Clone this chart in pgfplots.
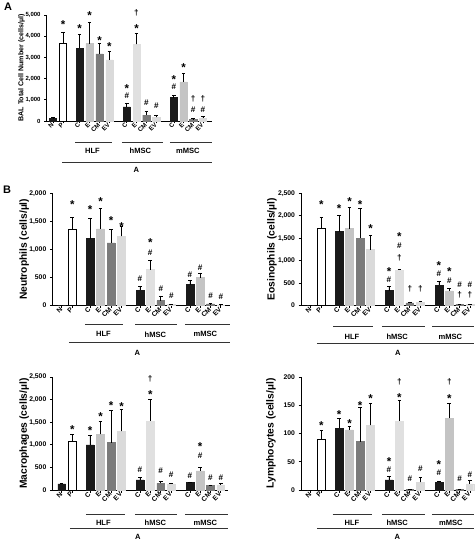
\documentclass[border=0pt]{standalone}
\usepackage{fontspec}
\setmainfont{Liberation Sans}
\usepackage{pgfplots}
\pgfplotsset{compat=1.18}
\definecolor{cblk}{HTML}{1A1A1A}
\definecolor{cE}{HTML}{C4C4C4}
\definecolor{chE}{HTML}{E0E0E0}
\definecolor{cCM}{HTML}{7B7B7B}
\definecolor{cEV}{HTML}{DADADA}
\definecolor{cgl}{HTML}{333333}
\pgfplotsset{
 panel/.style={
  scale only axis, anchor=south west, clip=false,
  axis x line*=bottom, axis y line*=left,
  axis line style={line width=0.8bp, black},
  tick align=outside, major tick length=2.5bp,
  tick style={line width=0.7bp, black},
  ymin=0,
  xtick={0,1.03,2.75,3.77,4.79,5.81,7.6,8.6,9.62,10.64,12.45,13.45,14.45,15.45},
  xticklabels={N,P,C,E,CM,EV,C,E,CM,EV,C,E,CM,EV},
  xticklabel style={rotate=45, anchor=east, inner sep=0.6bp, font=\bfseries\fontsize{6.8}{6.8}\selectfont},
  scaled y ticks=false,
  yticklabel style={/pgf/number format/fixed, /pgf/number format/1000 sep={,}, /pgf/number format/assume math mode=true},
  ybar, bar width=0.75, bar shift=0pt,
  error bars/y dir=plus, error bars/y explicit,
  error bars/error bar style={line width=0.8bp, black},
  error bars/error mark options={rotate=90, mark size=1.8bp, line width=0.8bp, black},
 },
 sblk/.style={fill=cblk, draw=cblk},
 sP/.style={fill=white, draw=black, line width=0.8bp},
 sE/.style={fill=cE, draw=cE},
 shE/.style={fill=chE, draw=chE},
 sCM/.style={fill=cCM, draw=cCM},
 sEV/.style={fill=cEV, draw=cEV},
}
\tikzset{
 st/.style={font=\bfseries\fontsize{11.5}{11.5}\selectfont, anchor=base, yshift=-6.6bp, inner sep=0pt},
 hs/.style={font=\bfseries\fontsize{8.2}{8.2}\selectfont, anchor=center, inner sep=0pt},
 grp/.style={line width=0.8bp, cgl},
 glab/.style={font=\bfseries\fontsize{7.6}{7.6}\selectfont, anchor=center, inner sep=0pt},
 ylab/.style={font=\bfseries\fontsize{10.3}{10.3}\selectfont, rotate=90, anchor=center, inner sep=0pt},
}
\begin{document}
\begin{tikzpicture}
\useasboundingbox (0,0) rectangle (475bp,541bp);
\node[font=\bfseries\fontsize{11}{11}\selectfont, anchor=north west, inner sep=0pt] at (4bp,538bp) {A};
\node[font=\bfseries\fontsize{11}{11}\selectfont, anchor=north west, inner sep=0pt] at (3bp,355bp) {B};

% ---------------- Panel A ----------------
\begin{axis}[panel, at={(46.5bp,420bp)}, width=165.5bp, height=106bp,
  xmin=-0.67, xmax=16.38, ymax=5000, ytick={0,1000,2000,3000,4000,5000},
  yticklabel style={font=\bfseries\fontsize{6}{6}\selectfont},
  xticklabel style={font=\bfseries\fontsize{6.3}{6.3}\selectfont}]
\addplot[sblk] coordinates {(0,140) +- (0,15) (2.75,3430) +- (0,670) (7.6,667) +- (0,155) (12.45,1100) +- (0,94)};
\addplot[sP] coordinates {(1.03,3662) +- (0,500)};
\addplot[sE] coordinates {(3.77,3647) +- (0,1026) (13.45,1843) +- (0,420)};
\addplot[shE] coordinates {(8.6,3616) +- (0,513)};
\addplot[sCM] coordinates {(4.79,3165) +- (0,497) (9.62,279) +- (0,186) (14.45,93) +- (0,15)};
\addplot[sEV] coordinates {(5.81,2885) +- (0,389) (10.64,170) +- (0,80) (15.45,140) +- (0,60)};
\node[st] at (axis cs:1.03,4653) {*};
\node[st] at (axis cs:2.75,4464) {*};
\node[st] at (axis cs:3.77,5095) {*};
\node[st] at (axis cs:4.79,3912) {*};
\node[st] at (axis cs:5.81,3628) {*};
\node[st] at (axis cs:7.6,1650) {*};
\node[hs] at (axis cs:7.6,1180) {\#};
\node[hs] at (axis cs:8.6,5090) {†};
\node[st] at (axis cs:8.6,4500) {*};
\node[hs] at (axis cs:9.62,880) {\#};
\node[hs] at (axis cs:10.64,720) {\#};
\node[st] at (axis cs:12.45,2075) {*};
\node[hs] at (axis cs:12.45,1605) {\#};
\node[st] at (axis cs:13.45,2650) {*};
\node[hs] at (axis cs:14.45,1050) {†};
\node[hs] at (axis cs:14.45,540) {\#};
\node[hs] at (axis cs:15.45,1050) {†};
\node[hs] at (axis cs:15.45,540) {\#};
\node[font=\bfseries\fontsize{7.1}{7.1}\selectfont, rotate=90, anchor=center, inner sep=0pt] at ([xshift=-25bp]rel axis cs:0,0.5) {BAL Total Cell Number (cells/µl)};
\draw[grp] ([yshift=-21bp]axis cs:2.27,0) -- ([yshift=-21bp]axis cs:6.08,0);
\draw[grp] ([yshift=-21bp]axis cs:7.1,0) -- ([yshift=-21bp]axis cs:11.33,0);
\draw[grp] ([yshift=-21bp]axis cs:12.05,0) -- ([yshift=-21bp]rel axis cs:1,0);
\node[glab] at ([yshift=-30bp]axis cs:4.07,0) {HLF};
\node[glab] at ([yshift=-30bp]axis cs:9.0,0) {hMSC};
\node[glab] at ([yshift=-30bp]axis cs:13.9,0) {mMSC};
\draw[grp] ([yshift=-41bp]axis cs:0.93,0) -- ([yshift=-41bp]rel axis cs:1,0);
\node[glab] at ([yshift=-49bp]axis cs:8.6,0) {A};
\end{axis}

% ---------------- Neutrophils ----------------
\begin{axis}[panel, at={(52.3bp,235.7bp)}, width=177.7bp, height=112bp,
  xmin=-0.91, xmax=16.34, ymax=2000, ytick={0,500,1000,1500,2000},
  yticklabel style={font=\bfseries\fontsize{6.8}{7}\selectfont}]
\addplot[sblk] coordinates {(0,5) +- (0,0) (2.75,1190) +- (0,369) (7.6,268) +- (0,71) (12.45,369) +- (0,77)};
\addplot[sP] coordinates {(1.03,1357) +- (0,208)};
\addplot[sE] coordinates {(3.77,1363) +- (0,374) (13.45,494) +- (0,83)};
\addplot[shE] coordinates {(8.6,637) +- (0,166)};
\addplot[sCM] coordinates {(4.79,1113) +- (0,244) (9.62,83) +- (0,84) (14.45,24) +- (0,8)};
\addplot[sEV] coordinates {(5.81,1232) +- (0,178) (10.64,12) +- (0,5) (15.45,6) +- (0,4)};
\node[st] at (axis cs:1.03,1845) {*};
\node[st] at (axis cs:2.75,1755) {*};
\node[st] at (axis cs:3.77,1904) {*};
\node[st] at (axis cs:4.79,1559) {*};
\node[st] at (axis cs:5.81,1458) {*};
\node[hs] at (axis cs:7.6,476) {\#};
\node[st] at (axis cs:8.6,1160) {*};
\node[hs] at (axis cs:8.6,940) {\#};
\node[hs] at (axis cs:9.62,298) {\#};
\node[hs] at (axis cs:10.64,167) {\#};
\node[hs] at (axis cs:12.45,547) {\#};
\node[hs] at (axis cs:13.45,672) {\#};
\node[hs] at (axis cs:14.45,167) {\#};
\node[hs] at (axis cs:15.45,149) {\#};
\node[ylab] at ([xshift=-28bp]rel axis cs:0,0.5) {Neutrophils (cells/µl)};
\draw[grp] ([yshift=-19bp]axis cs:2.26,0) -- ([yshift=-19bp]axis cs:5.96,0);
\draw[grp] ([yshift=-19bp]axis cs:7.12,0) -- ([yshift=-19bp]axis cs:11.19,0);
\draw[grp] ([yshift=-19bp]axis cs:11.97,0) -- ([yshift=-19bp]rel axis cs:1,0);
\node[glab] at ([yshift=-29bp]axis cs:4.05,0) {HLF};
\node[glab] at ([yshift=-29bp]axis cs:9.1,0) {hMSC};
\node[glab] at ([yshift=-29bp]axis cs:13.95,0) {mMSC};
\draw[grp] ([yshift=-37.5bp]axis cs:0.71,0) -- ([yshift=-37.5bp]rel axis cs:1,0);
\node[glab] at ([yshift=-47.5bp]axis cs:7.35,0) {A};
\end{axis}

% ---------------- Eosinophils ----------------
\begin{axis}[panel, at={(301bp,235.5bp)}, width=173bp, height=112.2bp,
  xmin=-0.94, xmax=15.85, ymax=2500, ytick={0,500,1000,1500,2000,2500},
  yticklabel style={font=\bfseries\fontsize{6.8}{7}\selectfont}]
\addplot[sblk] coordinates {(0,0) +- (0,0) (2.75,1647) +- (0,356) (7.6,334) +- (0,96) (12.45,453) +- (0,81)};
\addplot[sP] coordinates {(1.03,1721) +- (0,245)};
\addplot[sE] coordinates {(3.77,1714) +- (0,467) (13.45,326) +- (0,60)};
\addplot[shE] coordinates {(8.6,794) +- (0,16)};
\addplot[sCM] coordinates {(4.79,1499) +- (0,667) (9.62,59) +- (0,21) (14.45,22) +- (0,5)};
\addplot[sEV] coordinates {(5.81,1246) +- (0,305) (10.64,74) +- (0,16) (15.45,22) +- (0,4)};
\node[st] at (axis cs:1.03,2315) {*};
\node[st] at (axis cs:2.75,2226) {*};
\node[st] at (axis cs:3.77,2367) {*};
\node[st] at (axis cs:4.79,2300) {*};
\node[st] at (axis cs:5.81,1781) {*};
\node[st] at (axis cs:7.6,820) {*};
\node[hs] at (axis cs:7.6,585) {\#};
\node[st] at (axis cs:8.6,1600) {*};
\node[hs] at (axis cs:8.6,1336) {\#};
\node[hs] at (axis cs:8.6,1060) {†};
\node[hs] at (axis cs:9.62,364) {†};
\node[hs] at (axis cs:10.64,364) {†};
\node[st] at (axis cs:12.45,955) {*};
\node[hs] at (axis cs:12.45,712) {\#};
\node[st] at (axis cs:13.45,805) {*};
\node[hs] at (axis cs:13.45,563) {\#};
\node[hs] at (axis cs:14.45,455) {\#};
\node[hs] at (axis cs:14.45,227) {†};
\node[hs] at (axis cs:15.45,455) {\#};
\node[hs] at (axis cs:15.45,227) {†};
\node[ylab] at ([xshift=-29bp]rel axis cs:0,0.5) {Eosinophils (cells/µl)};
\draw[grp] ([yshift=-21bp]axis cs:2.17,0) -- ([yshift=-21bp]axis cs:6.05,0);
\draw[grp] ([yshift=-21bp]axis cs:6.92,0) -- ([yshift=-21bp]axis cs:11.1,0);
\draw[grp] ([yshift=-21bp]axis cs:11.78,0) -- ([yshift=-21bp]rel axis cs:1,0);
\node[glab] at ([yshift=-31bp]axis cs:4.0,0) {HLF};
\node[glab] at ([yshift=-31bp]axis cs:8.4,0) {hMSC};
\node[glab] at ([yshift=-31bp]axis cs:13.55,0) {mMSC};
\draw[grp] ([yshift=-37.5bp]axis cs:0.61,0) -- ([yshift=-37.5bp]rel axis cs:1,0);
\node[glab] at ([yshift=-47.5bp]axis cs:8.45,0) {A};
\end{axis}

% ---------------- Macrophages ----------------
\begin{axis}[panel, at={(52.3bp,51bp)}, width=176bp, height=113bp,
  xmin=-0.91, xmax=16.18, ymax=2500, ytick={0,500,1000,1500,2000,2500},
  yticklabel style={font=\bfseries\fontsize{6.8}{7}\selectfont}]
\addplot[sblk] coordinates {(0,133) +- (0,15) (2.75,999) +- (0,200) (7.6,222) +- (0,52) (12.45,163) +- (0,15)};
\addplot[sP] coordinates {(1.03,1080) +- (0,148)};
\addplot[sE] coordinates {(3.77,1228) +- (0,289) (13.45,422) +- (0,81)};
\addplot[shE] coordinates {(8.6,1532) +- (0,466)};
\addplot[sCM] coordinates {(4.79,1050) +- (0,711) (9.62,148) +- (0,37) (14.45,104) +- (0,7)};
\addplot[sEV] coordinates {(5.81,1295) +- (0,495) (10.64,133) +- (0,15) (15.45,111) +- (0,30)};
\node[st] at (axis cs:1.03,1406) {*};
\node[st] at (axis cs:2.75,1369) {*};
\node[st] at (axis cs:3.77,1687) {*};
\node[st] at (axis cs:4.79,1924) {*};
\node[st] at (axis cs:5.81,1902) {*};
\node[hs] at (axis cs:7.6,444) {\#};
\node[hs] at (axis cs:8.6,2470) {†};
\node[st] at (axis cs:8.6,2175) {*};
\node[hs] at (axis cs:9.62,422) {\#};
\node[hs] at (axis cs:10.64,348) {\#};
\node[hs] at (axis cs:12.45,311) {\#};
\node[st] at (axis cs:13.45,1010) {*};
\node[hs] at (axis cs:13.45,752) {\#};
\node[hs] at (axis cs:14.45,274) {\#};
\node[hs] at (axis cs:15.45,274) {\#};
\node[ylab] at ([xshift=-28bp]rel axis cs:0,0.5) {Macrophages (cells/µl)};
\draw[grp] ([yshift=-24bp]axis cs:2.36,0) -- ([yshift=-24bp]axis cs:6.15,0);
\draw[grp] ([yshift=-24bp]axis cs:7.1,0) -- ([yshift=-24bp]axis cs:11.17,0);
\draw[grp] ([yshift=-24bp]axis cs:11.97,0) -- ([yshift=-24bp]rel axis cs:1,0);
\node[glab] at ([yshift=-32.5bp]axis cs:4.05,0) {HLF};
\node[glab] at ([yshift=-32.5bp]axis cs:9.1,0) {hMSC};
\node[glab] at ([yshift=-32.5bp]axis cs:13.95,0) {mMSC};
\draw[grp] ([yshift=-38.3bp]axis cs:0.8,0) -- ([yshift=-38.3bp]rel axis cs:1,0);
\node[glab] at ([yshift=-46.5bp]axis cs:7.4,0) {A};
\end{axis}

% ---------------- Lymphocytes ----------------
\begin{axis}[panel, at={(301bp,51bp)}, width=173bp, height=113bp,
  xmin=-0.94, xmax=15.85, ymax=200, ytick={0,50,100,150,200},
  yticklabel style={font=\bfseries\fontsize{6.8}{7}\selectfont}]
\addplot[sblk] coordinates {(0,0) +- (0,0) (2.75,109.5) +- (0,16.5) (7.6,17.8) +- (0,5.9) (12.45,13.6) +- (0,2.4)};
\addplot[sP] coordinates {(1.03,88.8) +- (0,16)};
\addplot[sE] coordinates {(3.77,106.6) +- (0,5.9) (13.45,127.3) +- (0,25.4)};
\addplot[shE] coordinates {(8.6,122.5) +- (0,35.5)};
\addplot[sCM] coordinates {(4.79,85.8) +- (0,60.2) (9.62,0.6) +- (0,0) (14.45,1) +- (0,0)};
\addplot[sEV] coordinates {(5.81,114.3) +- (0,38.7) (10.64,13.6) +- (0,8.9) (15.45,10.7) +- (0,5.9)};
\node[st] at (axis cs:1.03,118) {*};
\node[st] at (axis cs:2.75,139) {*};
\node[st] at (axis cs:3.77,123) {*};
\node[st] at (axis cs:4.79,155) {*};
\node[st] at (axis cs:5.81,166) {*};
\node[st] at (axis cs:7.6,55.5) {*};
\node[hs] at (axis cs:7.6,36) {\#};
\node[hs] at (axis cs:8.6,191.5) {†};
\node[st] at (axis cs:8.6,168) {*};
\node[hs] at (axis cs:9.62,20.7) {\#};
\node[hs] at (axis cs:10.64,38.5) {\#};
\node[st] at (axis cs:12.45,49.5) {*};
\node[hs] at (axis cs:12.45,30) {\#};
\node[hs] at (axis cs:13.45,191.5) {†};
\node[st] at (axis cs:13.45,165.8) {*};
\node[hs] at (axis cs:14.45,20.7) {\#};
\node[hs] at (axis cs:15.45,26.6) {\#};
\node[ylab] at ([xshift=-30bp]rel axis cs:0,0.5) {Lymphocytes (cells/µl)};
\draw[grp] ([yshift=-24bp]axis cs:2.13,0) -- ([yshift=-24bp]axis cs:5.92,0);
\draw[grp] ([yshift=-24bp]axis cs:6.9,0) -- ([yshift=-24bp]axis cs:11.1,0);
\draw[grp] ([yshift=-24bp]axis cs:11.75,0) -- ([yshift=-24bp]rel axis cs:1,0);
\node[glab] at ([yshift=-32.5bp]axis cs:4.0,0) {HLF};
\node[glab] at ([yshift=-32.5bp]axis cs:8.4,0) {hMSC};
\node[glab] at ([yshift=-32.5bp]axis cs:13.6,0) {mMSC};
\draw[grp] ([yshift=-38.3bp]axis cs:0.64,0) -- ([yshift=-38.3bp]rel axis cs:1,0);
\node[glab] at ([yshift=-46.5bp]axis cs:8.4,0) {A};
\end{axis}
\end{tikzpicture}
\end{document}
